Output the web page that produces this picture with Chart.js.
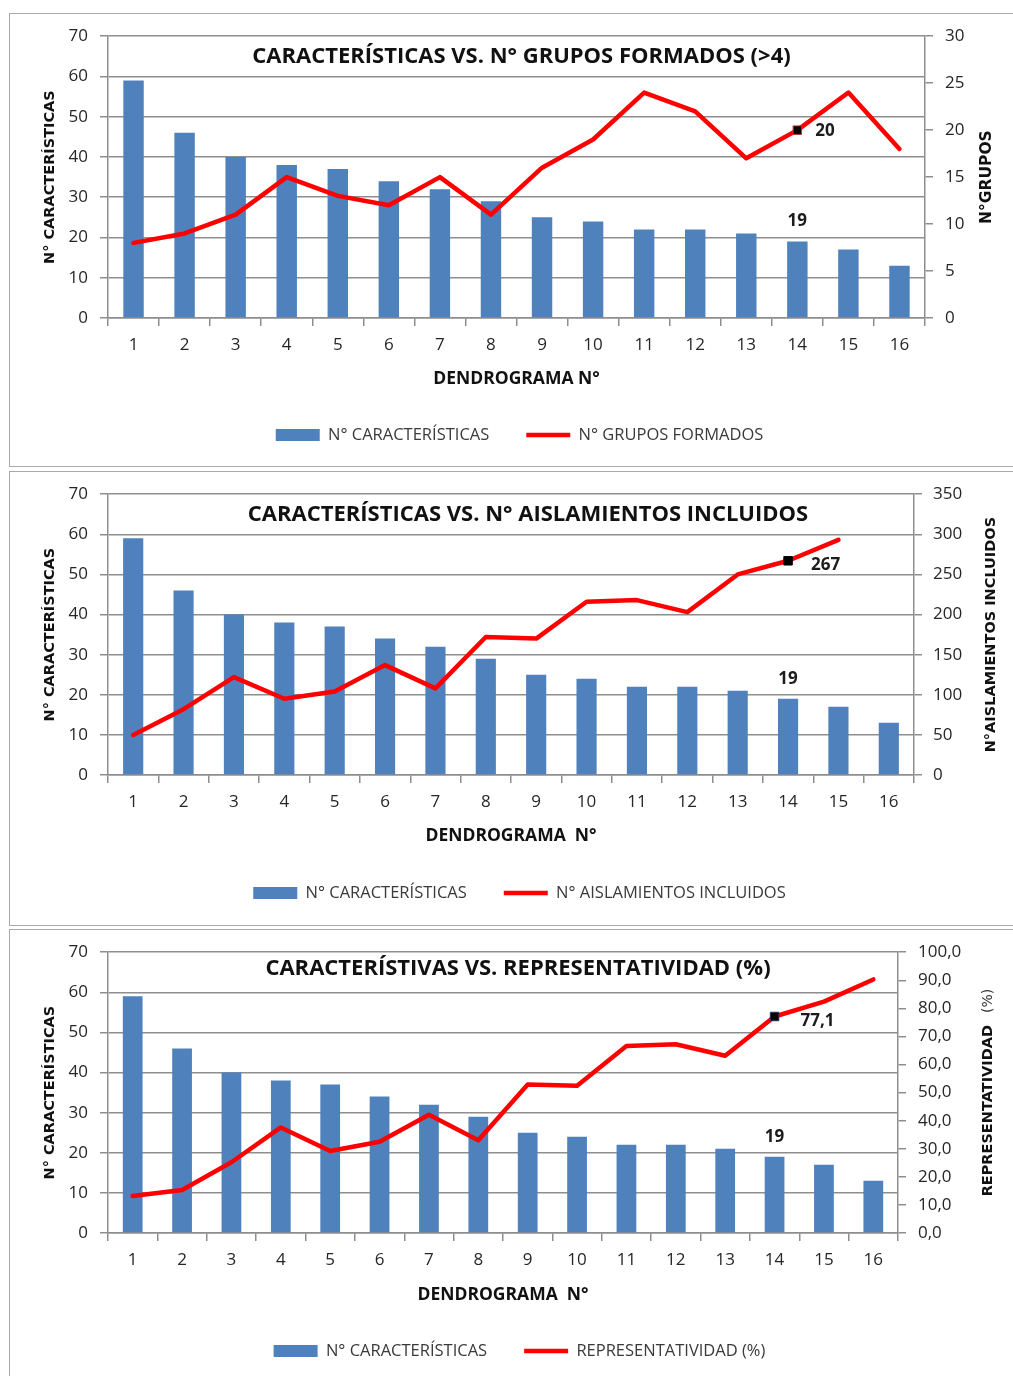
<!DOCTYPE html>
<html>
<head>
<meta charset="utf-8">
<script src="https://cdn.jsdelivr.net/npm/chart.js@4/dist/chart.umd.min.js"></script>
<style>
  html, body { margin: 0; padding: 0; background: #fff; }
  body { width: 1013px; height: 1376px; position: relative; overflow: hidden; }
  .panel { position: absolute; left: 9px; width: 1030px; border: 1.5px solid #a9a9a9; box-sizing: border-box; }
  canvas { position: absolute; left: 0; }
</style>
</head>
<body>
<div class="panel" style="top:13px;height:454px"></div>
<div class="panel" style="top:471px;height:455px"></div>
<div class="panel" style="top:929px;height:470px"></div>
<canvas id="grupos" width="1013" height="452" style="top:14px"></canvas>
<canvas id="aislamientos" width="1013" height="452" style="top:472px"></canvas>
<canvas id="representatividad" width="1013" height="446" style="top:930px"></canvas>
<script>
// Dendrogram numbers along the x axis
const dendrogramas = ['1','2','3','4','5','6','7','8','9','10','11','12','13','14','15','16'];

// Number of characteristics per dendrogram (bars, left axis)
const caracteristicas = [59, 46, 40, 38, 37, 34, 32, 29, 25, 24, 22, 22, 21, 19, 17, 13];

// Second series of each chart (red line, right axis)
const gruposFormados = [8, 9, 11, 15, 13, 12, 15, 11, 16, 19, 24, 22, 17, 20, 24, 18];
const aislamientosIncluidos = [50, 82, 122, 95, 104, 137, 108, 172, 170, 216, 218, 203, 250, 267, 293, null];
const representatividad = [13.2, 15.3, 25.2, 37.6, 29.2, 32.5, 42.1, 33.0, 52.9, 52.4, 66.6, 67.2, 63.1, 77.1, 82.4, 90.3];

// Axis tick values
const ticksCaracteristicas = [0, 10, 20, 30, 40, 50, 60, 70];
const ticksGrupos = [0, 5, 10, 15, 20, 25, 30];
const ticksAislamientos = [0, 50, 100, 150, 200, 250, 300, 350];
const ticksRepresentatividad = [0, 10, 20, 30, 40, 50, 60, 70, 80, 90, 100];

// Highlighted dendrogram (value labels)
const destacado = 13;

const BLUE = '#4f81bd';
const RED = '#ff0000';
const GRID = '#8e8e8e';
const TEXT = '#262626';
const SANS = '"Open Sans", sans-serif';
const AXIS_TITLE_FONT = 'bold 14.5px "DejaVu Sans", sans-serif';

Chart.defaults.font.family = SANS;
Chart.defaults.color = TEXT;

// Vertical text reading bottom-to-top, centred on (x, y)
function verticalText(ctx, parts, x, y) {
  ctx.save();
  ctx.translate(x, y);
  ctx.rotate(-Math.PI / 2);
  ctx.textBaseline = 'middle';
  ctx.textAlign = 'left';
  let total = 0;
  parts.forEach(p => { ctx.font = p.font; p.w = ctx.measureText(p.text).width; total += p.w + (p.gap || 0); });
  let cx = -total / 2;
  parts.forEach(p => {
    ctx.font = p.font;
    ctx.fillStyle = p.color || '#111';
    ctx.fillText(p.text, cx, 0);
    cx += p.w + (p.gap || 0);
  });
  ctx.restore();
}

// Chart title, rotated axis titles and the value labels of the highlighted dendrogram
const decorations = {
  id: 'decor',
  afterDatasetsDraw(chart, args, o) {
    const ctx = chart.ctx;
    const a = chart.chartArea;
    const midY = (a.top + a.bottom) / 2;
    ctx.save();
    ctx.font = o.titleFont;
    ctx.fillStyle = '#111';
    ctx.textAlign = 'center';
    ctx.textBaseline = 'middle';
    ctx.fillText(o.title, (a.left + a.right) / 2 + o.titleDx, a.top + o.titleDy);

    verticalText(ctx, [{ text: 'N° CARACTERÍSTICAS', font: AXIS_TITLE_FONT }], o.leftTitleX, midY);
    verticalText(ctx, o.rightTitle, o.rightTitleX, midY);

    o.valueLabels.forEach(l => {
      const el = chart.getDatasetMeta(l.dataset).data[l.index];
      const v = chart.data.datasets[l.dataset].data[l.index];
      ctx.font = 'bold 17px ' + SANS;
      ctx.fillStyle = '#1c1c1c';
      ctx.textAlign = l.align;
      ctx.textBaseline = 'middle';
      ctx.fillText(l.format(v), el.x + l.dx, el.y + l.dy);
    });
    ctx.restore();
  }
};

function fixedTicks(values) {
  return scale => { scale.ticks = values.map(v => ({ value: v })); };
}

function buildChart(id, spec) {
  const canvas = document.getElementById(id);
  const H = canvas.height;
  const LEG_FS = 16.5, LEG_PAD = 37;
  const legendH = LEG_FS + LEG_PAD + 10;
  const padBottom = H - spec.legendY - 10 - LEG_FS / 2;
  const xHeight = H - padBottom - legendH - spec.areaBottom;
  const X_TITLE_FS = 17.5;
  const xTitlePad = spec.areaBottom + xHeight - spec.xTitleY - X_TITLE_FS * 0.6;
  const LEFT_PAD = 26;

  return new Chart(canvas, {
    data: {
      labels: dendrogramas,
      datasets: [
        {
          type: 'bar',
          label: 'N° CARACTERÍSTICAS',
          data: caracteristicas,
          yAxisID: 'y',
          backgroundColor: BLUE,
          borderWidth: 0,
          barPercentage: 0.4,
          categoryPercentage: 1,
          order: 2
        },
        {
          type: 'line',
          label: spec.lineLabel,
          data: spec.lineData,
          yAxisID: 'y1',
          borderColor: RED,
          backgroundColor: RED,
          borderWidth: 4.5,
          tension: 0,
          borderJoinStyle: 'round',
          borderCapStyle: 'round',
          pointStyle: 'rect',
          pointRadius: c => (c.dataIndex === destacado ? 6 : 0),
          pointBackgroundColor: '#000',
          pointBorderColor: spec.markBorder,
          pointBorderWidth: 1,
          order: 1
        }
      ]
    },
    options: {
      responsive: false,
      animation: false,
      events: [],
      layout: { padding: { top: spec.areaTop, left: LEFT_PAD, right: 0, bottom: padBottom } },
      scales: {
        x: {
          type: 'category',
          afterFit: s => { s.height = xHeight; },
          grid: { offset: true, drawOnChartArea: false, drawTicks: true, tickLength: 8, color: GRID, lineWidth: 1.5 },
          border: { display: true, color: GRID, width: 1.5 },
          ticks: { font: { size: 17 }, color: TEXT, padding: 9, maxRotation: 0, autoSkip: false },
          title: {
            display: true,
            text: spec.xTitle,
            font: { size: X_TITLE_FS, weight: 'bold' },
            color: '#111',
            padding: { top: 0, bottom: xTitlePad }
          }
        },
        y: {
          position: 'left',
          min: 0,
          max: 70,
          afterFit: s => { s.width = 108 - LEFT_PAD; },
          afterBuildTicks: fixedTicks(ticksCaracteristicas),
          grid: { color: GRID, lineWidth: 1.5, tickLength: 8 },
          border: { display: true, color: GRID, width: 1.5 },
          ticks: { font: { size: 17 }, color: TEXT, padding: 12, callback: v => String(v) }
        },
        y1: {
          position: 'right',
          min: 0,
          max: spec.rightMax,
          afterFit: s => { s.width = 1013 - spec.areaRight; },
          afterBuildTicks: fixedTicks(spec.rightTicks),
          grid: { drawOnChartArea: false, color: GRID, lineWidth: 1.5, tickLength: 8 },
          border: { display: true, color: GRID, width: 1.5 },
          ticks: { font: { size: 17 }, color: TEXT, padding: spec.rightPad, callback: spec.rightFormat }
        }
      },
      plugins: {
        tooltip: { enabled: false },
        legend: {
          position: 'bottom',
          labels: {
            usePointStyle: true,
            pointStyleWidth: 44,
            boxHeight: 12,
            padding: LEG_PAD,
            color: '#3a3a3a',
            font: { size: LEG_FS },
            generateLabels: chart => chart.data.datasets.map((ds, i) => ({
              text: ds.label,
              fillStyle: ds.type === 'line' ? ds.borderColor : ds.backgroundColor,
              strokeStyle: ds.type === 'line' ? ds.borderColor : ds.backgroundColor,
              lineWidth: ds.type === 'line' ? 4.5 : 0,
              pointStyle: ds.type === 'line' ? 'line' : 'rect',
              fontColor: '#3a3a3a',
              hidden: false,
              datasetIndex: i
            }))
          }
        },
        decor: {
          title: spec.title,
          titleFont: 'bold 22px ' + SANS,
          titleDx: spec.titleDx,
          titleDy: spec.titleDy,
          leftTitleX: 50,
          rightTitle: spec.rightTitle,
          rightTitleX: spec.rightTitleX,
          valueLabels: [
            { dataset: 1, index: destacado, dx: spec.lineLabelDx, dy: spec.lineLabelDy, align: 'left', format: spec.lineLabelFormat },
            { dataset: 0, index: destacado, dx: 0, dy: -20, align: 'center', format: v => String(v) }
          ]
        }
      }
    },
    plugins: [decorations]
  });
}

buildChart('grupos', {
  title: 'CARACTERÍSTICAS VS. N° GRUPOS FORMADOS (>4)',
  titleDx: 5, titleDy: 21,
  lineLabel: 'N° GRUPOS FORMADOS',
  lineData: gruposFormados,
  rightMax: 30, rightTicks: ticksGrupos, rightPad: 12,
  rightFormat: v => String(v),
  rightTitle: [{ text: 'N°GRUPOS', font: 'bold 15.5px "DejaVu Sans", sans-serif' }],
  rightTitleX: 987,
  markBorder: '#b23a3a',
  lineLabelDx: 18, lineLabelDy: 1,
  lineLabelFormat: v => String(v),
  xTitle: 'DENDROGRAMA N°',
  areaTop: 22, areaBottom: 304, areaRight: 925,
  xTitleY: 365, legendY: 421
});

buildChart('aislamientos', {
  title: 'CARACTERÍSTICAS VS. N° AISLAMIENTOS INCLUIDOS',
  titleDx: 17, titleDy: 21,
  lineLabel: 'N° AISLAMIENTOS INCLUIDOS',
  lineData: aislamientosIncluidos,
  rightMax: 350, rightTicks: ticksAislamientos, rightPad: 11,
  rightFormat: v => String(v),
  rightTitle: [{ text: 'N°AISLAMIENTOS INCLUIDOS', font: AXIS_TITLE_FONT }],
  rightTitleX: 991,
  markBorder: '#000',
  lineLabelDx: 23, lineLabelDy: 4,
  lineLabelFormat: v => String(v),
  xTitle: 'DENDROGRAMA  N°',
  areaTop: 22, areaBottom: 303, areaRight: 914,
  xTitleY: 364, legendY: 421
});

buildChart('representatividad', {
  title: 'CARACTERÍSTIVAS VS. REPRESENTATIVIDAD (%)',
  titleDx: 15, titleDy: 17,
  lineLabel: 'REPRESENTATIVIDAD (%)',
  lineData: representatividad,
  rightMax: 100, rightTicks: ticksRepresentatividad, rightPad: 12,
  rightFormat: v => v.toFixed(1).replace('.', ','),
  rightTitle: [
    { text: 'REPRESENTATIVIDAD', font: AXIS_TITLE_FONT, gap: 12 },
    { text: '(%)', font: '14px "DejaVu Sans", sans-serif', color: '#333' }
  ],
  rightTitleX: 988,
  markBorder: '#2b2b6b',
  lineLabelDx: 26, lineLabelDy: 5,
  lineLabelFormat: v => v.toFixed(1).replace('.', ','),
  xTitle: 'DENDROGRAMA  N°',
  areaTop: 22, areaBottom: 303, areaRight: 898,
  xTitleY: 365, legendY: 421
});
</script>
</body>
</html>
